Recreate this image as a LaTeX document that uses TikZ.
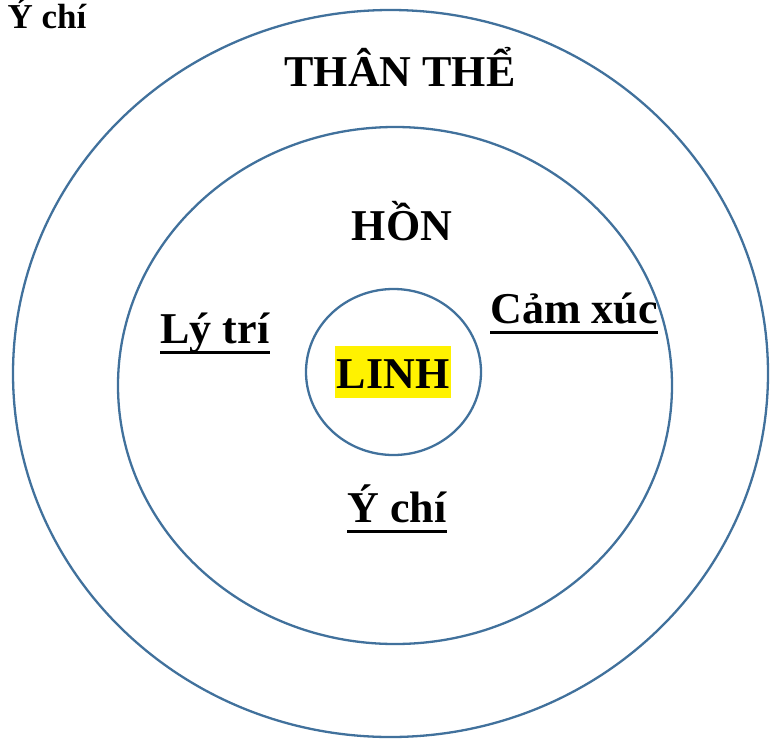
\documentclass[tikz,border=0pt]{standalone}
\usepackage{fontspec}
\setmainfont{Liberation Serif}
\definecolor{ringblue}{RGB}{65,113,156}
\begin{document}
\begin{tikzpicture}[x=1pt,y=-1pt,ring/.style={draw=ringblue,line width=2.3pt},
    lbl/.style={anchor=base,inner sep=0pt,font=\fontsize{44}{51}\selectfont\bfseries},
    small/.style={anchor=base,inner sep=0pt,font=\fontsize{35}{40}\selectfont\bfseries},
    uline/.style={line width=3pt}]
    \useasboundingbox (0,0) rectangle (779,739);

    \draw[ring] (390.5,373.5) ellipse [x radius=377.5,y radius=363.5];
    \draw[ring] (395,385.5) ellipse [x radius=277,y radius=258.5];
    \draw[ring] (393.5,372) ellipse [x radius=87.5,y radius=83];

    \node[small] (ychi0) at (47,28) {Ý chí};
    \node[lbl] (than) at (400,86) {THÂN THỂ};
    \node[lbl] (hon) at (402,240) {HỒN};
    \node[lbl,fill=yellow,text height=42pt,text depth=10pt,inner xsep=1.5pt] (linh) at (393,388) {LINH};
    \node[lbl] (lytri) at (215,343) {Lý trí};
    \node[lbl] (camxuc) at (574,323) {Cảm xúc};
    \node[lbl] (ychi) at (397,522) {Ý chí};

    % underlines
    \draw[uline] ([yshift=-9pt]lytri.base west) -- ([yshift=-9pt]lytri.base east);
    \draw[uline] ([yshift=-9pt]camxuc.base west) -- ([yshift=-9pt]camxuc.base east);
    \draw[uline] ([yshift=-9pt]ychi.base west) -- ([yshift=-9pt]ychi.base east);
\end{tikzpicture}
\end{document}
